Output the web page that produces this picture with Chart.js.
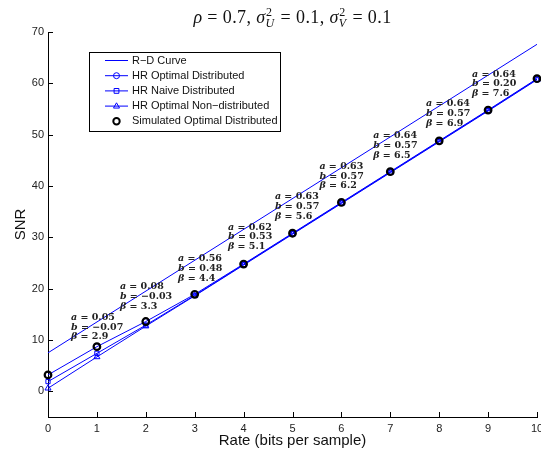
<!DOCTYPE html>
<html>
<head>
<meta charset="utf-8">
<script src="https://cdn.jsdelivr.net/npm/chart.js@4/dist/chart.umd.min.js"></script>
<style>
    html, body { margin: 0; padding: 0; background: #fff; overflow: hidden; }
</style>
</head>
<body>
<canvas id="grafico" width="560" height="458"></canvas>
<script>
// dados
var taxas = [0, 1, 2, 3, 4, 5, 6, 7, 8, 9, 10];
var taxasRD = [0, 10];
var snrRD = [7.5, 67.6];
var hrOtimoDist = [3.2, 8.7, 13.6, 18.9, 24.8, 30.8, 36.8, 42.8, 48.8, 54.8, 60.9];
var hrIngenuoDist = [1.9, 7.4, 12.9, 18.7, 24.7, 30.7, 36.7, 42.7, 48.7, 54.7, 60.8];
var hrOtimoNaoDist = [0.6, 6.7, 12.7, 18.6, 24.6, 30.6, 36.6, 42.6, 48.6, 54.6, 60.7];
var simOtimoDist = [3.2, 8.7, 13.6, 18.9, 24.8, 30.8, 36.8, 42.8, 48.8, 54.8, 60.9];

var ticksX = [0, 1, 2, 3, 4, 5, 6, 7, 8, 9, 10];
var ticksY = [0, 10, 20, 30, 40, 50, 60, 70];

// anotações a, b, beta (canto esquerdo e linha do meio, em unidades dos eixos)
var valoresA = ['0.05', '0.08', '0.56', '0.62', '0.63', '0.63', '0.64', '0.64', '0.64'];
var valoresB = ['\u22120.07', '\u22120.03', '0.48', '0.53', '0.57', '0.57', '0.57', '0.57', '0.20'];
var valoresBeta = ['2.9', '3.3', '4.4', '5.1', '5.6', '6.2', '6.5', '6.9', '7.6'];
var notaTaxa = [0.47, 1.47, 2.66, 3.68, 4.64, 5.55, 6.65, 7.73, 8.67];
var notaSnr = [12.5, 18.5, 23.9, 30.1, 36.0, 41.9, 47.9, 54.1, 59.9];

var AZUL = '#0000ff';

function pontos(xs, ys) {
    return xs.map(function (x, i) { return { x: x, y: ys[i] }; });
}

// marcador simples para a legenda
function marcador(ctx, estilo, x, y, r) {
    ctx.beginPath();
    if (estilo === 'circle') {
        ctx.arc(x, y, r, 0, Math.PI * 2);
    } else if (estilo === 'rect') {
        ctx.rect(x - r * 0.8, y - r * 0.8, r * 1.6, r * 1.6);
    } else if (estilo === 'triangle') {
        ctx.moveTo(x, y - r * 1.1);
        ctx.lineTo(x + r, y + r * 0.65);
        ctx.lineTo(x - r, y + r * 0.65);
        ctx.closePath();
    }
    ctx.stroke();
}

function desenharTitulo(ctx, cx, base) {
    var S = 18;
    var fonte = S + 'px "Liberation Serif"';
    var fonteIt = 'italic ' + S + 'px "Liberation Serif"';
    var peq = Math.round(S * 0.68) + 'px "Liberation Serif"';
    var peqIt = 'italic ' + Math.round(S * 0.68) + 'px "Liberation Serif"';
    var partes = [
        { t: '\u03c1', f: fonteIt }, { t: ' = 0.7, ', f: fonte },
        { t: '\u03c3', f: fonteIt }, { sup: '2', sub: 'U' }, { t: ' = 0.1, ', f: fonte },
        { t: '\u03c3', f: fonteIt }, { sup: '2', sub: 'V' }, { t: ' = 0.1', f: fonte }
    ];
    ctx.letterSpacing = '0.4px';
    var larg = function (p) {
        if (p.t) { ctx.font = p.f; return ctx.measureText(p.t).width; }
        ctx.font = peq; var a = ctx.measureText(p.sup).width;
        ctx.font = peqIt; var b = ctx.measureText(p.sub).width;
        return Math.max(a, b) + 1;
    };
    var total = 0;
    partes.forEach(function (p) { total += larg(p); });
    var x = cx - total / 2;
    ctx.fillStyle = '#111';
    ctx.textAlign = 'left';
    ctx.textBaseline = 'alphabetic';
    partes.forEach(function (p) {
        var w = larg(p);
        if (p.t) {
            ctx.font = p.f; ctx.fillText(p.t, x, base);
        } else {
            ctx.font = peq; ctx.fillText(p.sup, x + 0.5, base - S * 0.38);
            ctx.font = peqIt; ctx.fillText(p.sub, x, base + S * 0.22);
        }
        x += w;
    });
    ctx.letterSpacing = '0px';
}

var pluginTextos = {
    id: 'textos',
    afterDraw: function (chart) {
        var ctx = chart.ctx;
        var sx = chart.scales.x, sy = chart.scales.y, area = chart.chartArea;
        ctx.save();

        // marcas dos eixos para dentro
        ctx.strokeStyle = '#000';
        ctx.lineWidth = 1;
        ticksX.forEach(function (v) {
            var px = Math.round(sx.getPixelForValue(v)) + 0.5;
            ctx.beginPath(); ctx.moveTo(px, area.bottom); ctx.lineTo(px, area.bottom - 5); ctx.stroke();
        });
        ticksY.forEach(function (v) {
            var py = Math.round(sy.getPixelForValue(v)) + 0.5;
            ctx.beginPath(); ctx.moveTo(area.left, py); ctx.lineTo(area.left + 5, py); ctx.stroke();
        });

        // anotações
        var tam = 9.5;
        var fN = 'bold ' + tam + 'px "DejaVu Serif"';
        var fI = 'italic bold ' + tam + 'px "DejaVu Serif"';
        ctx.fillStyle = '#222';
        ctx.textAlign = 'left';
        ctx.textBaseline = 'middle';
        valoresA.forEach(function (a, i) {
            var x0 = sx.getPixelForValue(notaTaxa[i]);
            var ym = sy.getPixelForValue(notaSnr[i]);
            var linhas = [['a', a], ['b', valoresB[i]], ['\u03b2', valoresBeta[i]]];
            linhas.forEach(function (l, k) {
                var y = ym + (k - 1) * 9.7;
                ctx.font = fI; ctx.fillText(l[0], x0, y);
                var w = ctx.measureText(l[0]).width;
                ctx.font = fN; ctx.fillText(' = ' + l[1], x0 + w, y);
            });
        });

        // legenda
        var lx = 89.5, ly = 52.5, lw = 191, lh = 79;
        ctx.fillStyle = '#fff';
        ctx.fillRect(lx, ly, lw, lh);
        ctx.strokeStyle = '#000';
        ctx.strokeRect(lx, ly, lw, lh);
        var itens = [
            { nome: 'R\u2212D Curve', linha: true, estilo: null, cor: AZUL },
            { nome: 'HR Optimal Distributed', linha: true, estilo: 'circle', cor: AZUL },
            { nome: 'HR Naive Distributed', linha: true, estilo: 'rect', cor: AZUL },
            { nome: 'HR Optimal Non\u2212distributed', linha: true, estilo: 'triangle', cor: AZUL },
            { nome: 'Simulated Optimal Distributed', linha: false, estilo: 'circle', cor: '#000' }
        ];
        ctx.font = '11px "Liberation Sans"';
        ctx.textBaseline = 'middle';
        itens.forEach(function (it, k) {
            var y = 60.5 + k * 15.2;
            ctx.strokeStyle = it.cor;
            if (it.linha) {
                ctx.lineWidth = 1;
                ctx.beginPath(); ctx.moveTo(105, y); ctx.lineTo(128, y); ctx.stroke();
            }
            if (it.estilo) {
                ctx.lineWidth = it.linha ? 1 : 2;
                marcador(ctx, it.estilo, 116.5, y, it.linha ? 3 : 3.2);
            }
            ctx.fillStyle = '#111';
            ctx.fillText(it.nome, 132, y);
        });

        // título
        desenharTitulo(ctx, (area.left + area.right) / 2, 23);
        ctx.restore();
    }
};

var ctx = document.getElementById('grafico').getContext('2d');
var grafico = new Chart(ctx, {
    type: 'line',
    data: {
        datasets: [{
            label: 'R\u2212D Curve',
            data: pontos(taxasRD, snrRD),
            borderColor: AZUL,
            borderWidth: 1,
            pointRadius: 0,
            order: 5
        }, {
            label: 'HR Optimal Distributed',
            data: pontos(taxas, hrOtimoDist),
            borderColor: AZUL,
            borderWidth: 1,
            pointStyle: 'circle',
            pointRadius: 3,
            pointBorderWidth: 1,
            pointBackgroundColor: 'rgba(0,0,0,0)',
            order: 4
        }, {
            label: 'HR Naive Distributed',
            data: pontos(taxas, hrIngenuoDist),
            borderColor: AZUL,
            borderWidth: 1,
            pointStyle: 'rect',
            pointRadius: 3,
            pointBorderWidth: 1,
            pointBackgroundColor: 'rgba(0,0,0,0)',
            order: 3
        }, {
            label: 'HR Optimal Non\u2212distributed',
            data: pontos(taxas, hrOtimoNaoDist),
            borderColor: AZUL,
            borderWidth: 1,
            pointStyle: 'triangle',
            pointRadius: 3.5,
            pointBorderWidth: 1,
            pointBackgroundColor: 'rgba(0,0,0,0)',
            order: 2
        }, {
            label: 'Simulated Optimal Distributed',
            data: pontos(taxas, simOtimoDist),
            showLine: false,
            borderColor: '#000',
            pointStyle: 'circle',
            pointRadius: 3.3,
            pointBorderWidth: 2.2,
            pointBackgroundColor: 'rgba(0,0,0,0)',
            order: 1
        }]
    },
    options: {
        responsive: false,
        animation: false,
        clip: false,
        layout: { padding: { left: 0, top: 32, right: 23, bottom: 0 } },
        elements: { line: { tension: 0 } },
        plugins: {
            legend: { display: false },
            tooltip: { enabled: false },
            title: { display: false }
        },
        scales: {
            x: {
                type: 'linear',
                min: 0,
                max: 10,
                afterBuildTicks: function (s) { s.ticks = ticksX.map(function (v) { return { value: v }; }); },
                afterFit: function (s) { s.height = 41; },
                grid: { drawOnChartArea: false, drawTicks: false },
                border: { display: true, color: '#000', width: 1 },
                ticks: { padding: 5, color: '#222', font: { family: 'Liberation Sans', size: 11 }, maxRotation: 0 },
                title: { display: true, text: 'Rate (bits per sample)', color: '#111',
                         font: { family: 'Liberation Sans', size: 15 }, padding: { top: 0, bottom: 8 } }
            },
            y: {
                type: 'linear',
                min: -5,
                max: 70,
                afterBuildTicks: function (s) { s.ticks = ticksY.map(function (v) { return { value: v }; }); },
                afterFit: function (s) { s.width = 48; },
                grid: { drawOnChartArea: false, drawTicks: false },
                border: { display: true, color: '#000', width: 1 },
                ticks: { padding: 4, color: '#222', font: { family: 'Liberation Sans', size: 11 } },
                title: { display: true, text: 'SNR', color: '#111',
                         font: { family: 'Liberation Sans', size: 15 }, padding: { top: 12, bottom: 0 } }
            }
        }
    },
    plugins: [pluginTextos]
});
</script>
</body>
</html>
